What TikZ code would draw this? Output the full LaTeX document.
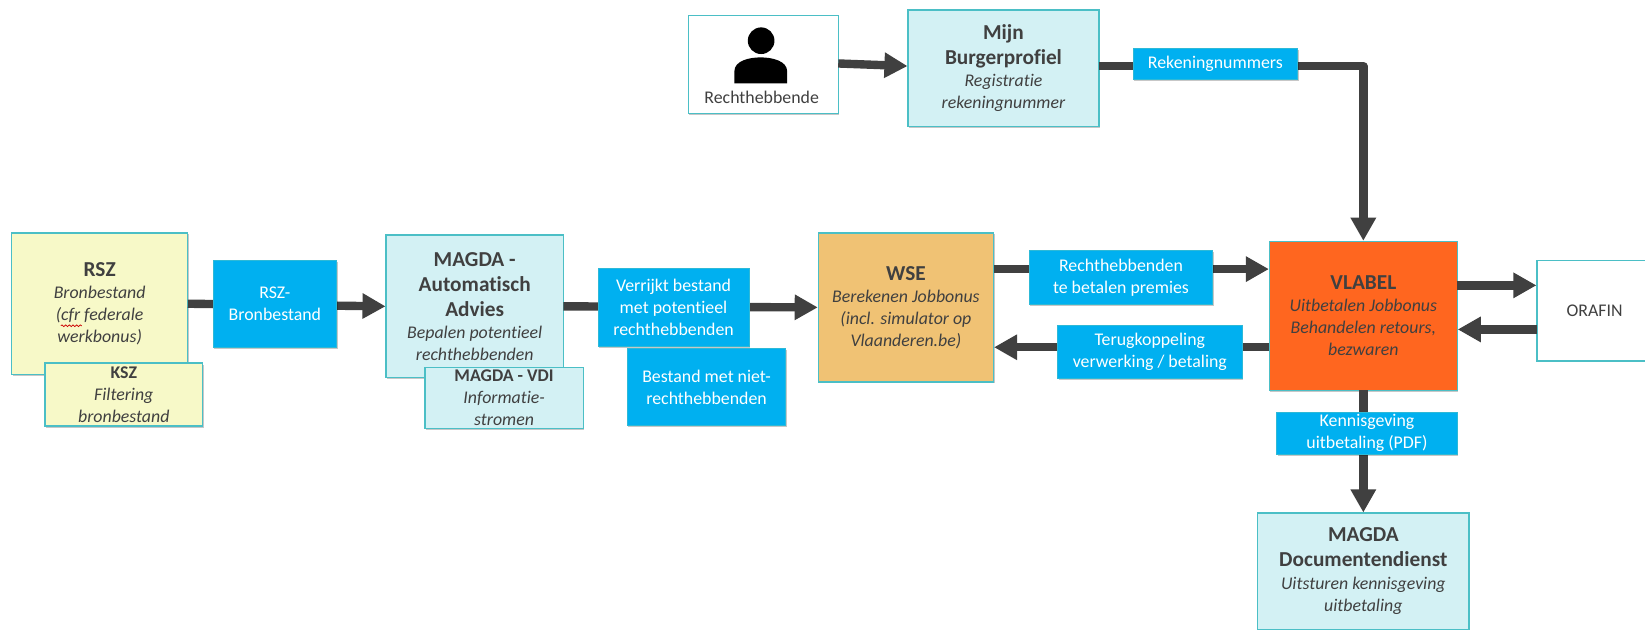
\documentclass[tikz,border=0pt]{standalone}
\usepackage{fontspec}
\setmainfont{Carlito}[Ligatures=NoCommon]
\usetikzlibrary{arrows.meta,shadows,decorations.pathmorphing}
\definecolor{txt}{HTML}{404040}
\definecolor{rim}{HTML}{4BBFC6}
\definecolor{paleyellow}{HTML}{F7F9C8}
\definecolor{palecyan}{HTML}{D3F1F4}
\definecolor{flowblue}{HTML}{00B0F0}
\definecolor{vlabelorange}{HTML}{FF661F}
\definecolor{wsegold}{HTML}{F0C274}
\newcommand{\ttl}[1]{{\fontsize{20.3}{21}\selectfont\bfseries #1}}
\tikzset{
  x=1pt,y=-1pt,
  softshadow/.style={drop shadow={shadow xshift=1pt,shadow yshift=-1.5pt,opacity=.22,fill=black}},
  basebox/.style={rectangle,inner sep=0pt,outer sep=0pt,align=center,text=txt,
    font=\fontsize{17}{21}\selectfont},
  sysbox/.style={basebox,softshadow,draw=rim,line width=1.3pt},
  databox/.style={basebox,softshadow,fill=flowblue,text=white,draw=rim!60!flowblue,line width=0.8pt},
  flow/.style={draw=txt,line width=8pt,line join=round,-{Triangle[length=22pt,width=23pt]},shorten >=0.5pt}
}
\begin{document}
\begin{tikzpicture}
\useasboundingbox (0,0) rectangle (1568,599.6);
\fill[white] (0,0) rectangle (1568,599.6);
% main systems
\node[sysbox,fill=white,minimum width=143pt,minimum height=93pt] (recht) at (727.5,61.5) {};
\node[sysbox,fill=palecyan,minimum width=182pt,minimum height=111pt] (mijn) at (956.5,65)
  {\ttl{Mijn}\\[3pt]\ttl{Burgerprofiel}\\\textit{Registratie}\\\textit{rekeningnummer}};
\node[sysbox,fill=paleyellow,minimum width=168pt,minimum height=135pt] (rsz) at (95,289.5)
  {\ttl{RSZ}\\\textit{Bronbestand}\\\textit{(cfr federale}\\\textit{werkbonus)}};
\node[sysbox,fill=palecyan,minimum width=169pt,minimum height=136pt] (auto) at (452.5,292)
  {\ttl{MAGDA -}\\[3pt]\ttl{Automatisch}\\[3pt]\ttl{Advies}\\\textit{Bepalen potentieel}\\\textit{rechthebbenden}};
\node[sysbox,fill=wsegold,minimum width=167pt,minimum height=142pt] (wse) at (863.5,293)
  {\ttl{WSE}\\\textit{Berekenen Jobbonus}\\\textit{(incl. simulator op}\\\textit{Vlaanderen.be)}};
\node[sysbox,fill=vlabelorange,minimum width=179pt,minimum height=142pt] (vlabel) at (1299.5,301)
  {\ttl{VLABEL}\\\textit{Uitbetalen Jobbonus}\\\textit{Behandelen retours,}\\\textit{bezwaren}};
\node[sysbox,fill=white,minimum width=110pt,minimum height=96pt] (orafin) at (1520,296)
  {ORAFIN};
\node[sysbox,fill=palecyan,minimum width=201.5pt,minimum height=111pt] (doc) at (1299.5,544.5)
  {\ttl{MAGDA}\\[3pt]\ttl{Documentendienst}\\[1pt]\textit{Uitsturen kennisgeving}\\\textit{uitbetaling}};
% person icon
\fill[black] (725.5,38.8) circle[radius=12.7];
\fill[black] (700,79.5) -- (700,68) .. controls (700,58) and (714,54.7) .. (725,54.7)
  .. controls (736,54.7) and (750.3,58) .. (750.3,68) -- (750.3,79.5) -- cycle;
\node[basebox] (rechtlabel) at (726,93) {Rechthebbende};
% connectors
\draw[flow] ([yshift=1pt]recht.east) -- ([yshift=2pt]mijn.west);
\draw[flow] ([yshift=2pt]mijn.east) -| (vlabel.north);
\draw[flow] (rsz.east) -- (auto.west);
\draw[flow] (auto.east) -- (wse.west);
\draw[flow] ([yshift=36.5pt]wse.east) -- ([yshift=44.5pt]vlabel.west);
\draw[flow] ([yshift=-30pt]vlabel.west) -- ([yshift=-38pt]wse.east);
\draw[flow] ([yshift=29pt]vlabel.east) -- ([yshift=24pt]orafin.west);
\draw[flow] ([yshift=-18pt]orafin.west) -- ([yshift=-13pt]vlabel.east);
\draw[flow] (vlabel.south) -- (doc.north);
% data labels
\node[databox,minimum width=157pt,minimum height=29pt] (rek) at (1158.5,61) {Rekeningnummers};
\node[databox,minimum width=118pt,minimum height=83pt] (rszdata) at (262,289.5) {RSZ-\\Bronbestand};
\node[databox,minimum width=144pt,minimum height=75pt] (verrijkt) at (642,293) {Verrijkt bestand\\met potentieel\\rechthebbenden};
\node[databox,minimum width=151pt,minimum height=73pt] (niet) at (673.5,369) {Bestand met niet-\\rechthebbenden};
\node[databox,minimum width=175pt,minimum height=51pt] (premies) at (1068.5,264.5) {Rechthebbenden\\te betalen premies};
\node[databox,minimum width=176pt,minimum height=51pt] (terug) at (1096,335.5) {Terugkoppeling\\verwerking / betaling};
\node[databox,minimum width=172pt,minimum height=40pt] (kennis) at (1303,413) {Kennisgeving\\uitbetaling (PDF)};
% overlapping boxes
\node[sysbox,fill=paleyellow,minimum width=150pt,minimum height=60pt] (ksz) at (118,376)
  {\textbf{KSZ}\\\textit{Filtering}\\\textit{bronbestand}};
\node[sysbox,fill=palecyan,minimum width=151pt,minimum height=58pt] (vdi) at (480.5,379.5)
  {\textbf{MAGDA - VDI}\\\textit{Informatie-}\\\textit{stromen}};
% spell-check squiggle
\draw[red!80!black,line width=0.7pt,decorate,decoration={snake,amplitude=0.8pt,segment length=3.5pt}]
  (58,310.5) -- (78,310.5);
\end{tikzpicture}
\end{document}
